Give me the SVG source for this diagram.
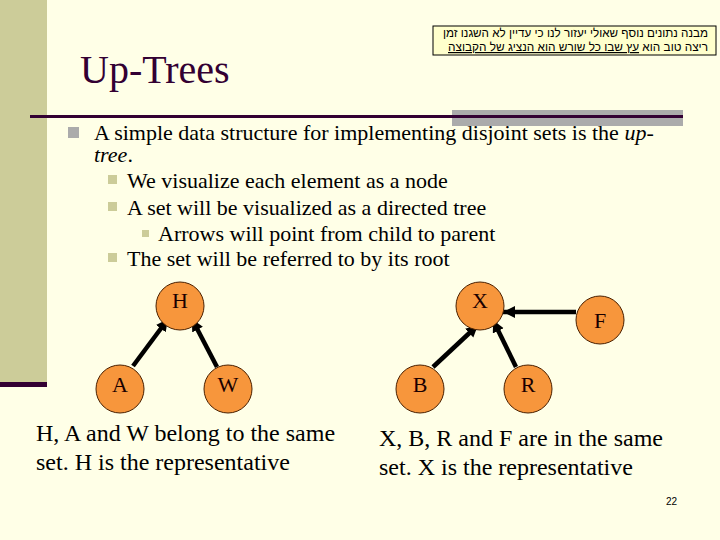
<svg xmlns="http://www.w3.org/2000/svg" width="720" height="540" viewBox="0 0 720 540">
<style>
.t{font-family:"Liberation Serif","Times New Roman",serif;fill:#000}
.b1{font-size:22px}
.cap{font-size:23px}
.lbl{font-family:"Liberation Serif","Times New Roman",serif;font-size:22px;fill:#1a0000;text-anchor:middle}
.node circle{fill:#F7963C;stroke:#4a2000;stroke-width:1}
.heb{font-family:"Liberation Sans","DejaVu Sans",sans-serif;font-size:12px;fill:#000}
.sq1{fill:#ABABAB}
.sq2{fill:#CCCC99}
</style>
<defs>
<marker id="ah" markerUnits="userSpaceOnUse" markerWidth="14" markerHeight="14" refX="12" refY="6" orient="auto">
<path d="M0,0 L12,6 L0,12 z" fill="#000"/>
</marker>
</defs>
<rect x="0" y="0" width="720" height="540" fill="#FFFFE7"/>
<rect x="0" y="0" width="47" height="382" fill="#CCCC99"/>
<rect x="0" y="382" width="47" height="5" fill="#330033"/>
<text x="80" y="83" style="font-family:'Liberation Serif','Times New Roman',serif;font-size:40px;fill:#330033">Up-Trees</text>
<rect x="452" y="110" width="231" height="16" fill="#ABABAB"/>
<rect x="30" y="115" width="653" height="3" fill="#330033"/>
<g id="note">
<rect x="433" y="26" width="283" height="29" fill="#FFFFCC" stroke="#000" stroke-width="1"/>
<text class="heb" x="708" y="37" direction="rtl" text-anchor="start" textLength="265" lengthAdjust="spacingAndGlyphs">מבנה נתונים נוסף שאולי יעזור לנו כי עדיין לא השגנו זמן</text>
<text class="heb" x="708" y="51" direction="rtl" text-anchor="start" textLength="260" lengthAdjust="spacingAndGlyphs">ריצה טוב הוא <tspan text-decoration="underline">עץ שבו כל שורש הוא הנציג של הקבוצה</tspan></text>
</g>
<rect class="sq1" x="68" y="127" width="11" height="11"/>
<text class="t b1" x="94" y="140">A simple data structure for implementing disjoint sets is the <tspan font-style="italic">up-</tspan></text>
<text class="t b1" x="94" y="162" font-style="italic">tree<tspan font-style="normal">.</tspan></text>
<rect class="sq2" x="108" y="175" width="9" height="9"/>
<text class="t b1" x="127" y="188">We visualize each element as a node</text>
<rect class="sq2" x="108" y="202" width="9" height="9"/>
<text class="t b1" x="127" y="215">A set will be visualized as a directed tree</text>
<rect class="sq2" x="142" y="230" width="7" height="7"/>
<text class="t b1" x="158" y="241">Arrows will point from child to parent</text>
<rect class="sq2" x="108" y="253" width="9" height="9"/>
<text class="t b1" x="127" y="266">The set will be referred to by its root</text>
<g id="connectors" stroke="#000" stroke-width="4.5" marker-end="url(#ah)">
<line x1="133" y1="366" x2="168" y2="319"/>
<line x1="217" y1="367" x2="192" y2="319"/>
<line x1="433" y1="367" x2="478" y2="325"/>
<line x1="516" y1="367" x2="493" y2="320"/>
<line x1="576" y1="312" x2="503" y2="312"/>
</g>
<g id="H" class="node"><circle cx="180" cy="306" r="24"/><text class="lbl" x="180" y="308">H</text></g>
<g id="A" class="node"><circle cx="120" cy="389" r="24"/><text class="lbl" x="120" y="392">A</text></g>
<g id="W" class="node"><circle cx="228" cy="389" r="24"/><text class="lbl" x="228" y="392">W</text></g>
<g id="X" class="node"><circle cx="480" cy="306" r="24"/><text class="lbl" x="480" y="308">X</text></g>
<g id="F" class="node"><circle cx="600" cy="320" r="24"/><text class="lbl" x="600" y="328">F</text></g>
<g id="B" class="node"><circle cx="420" cy="389" r="24"/><text class="lbl" x="420" y="392">B</text></g>
<g id="R" class="node"><circle cx="528" cy="389" r="24"/><text class="lbl" x="528" y="392">R</text></g>
<text class="t" x="36" y="441" font-size="24">H, A and W belong to the same</text>
<text class="t" x="36" y="470" font-size="24">set. H is the representative</text>
<text class="t" x="379" y="446" font-size="24">X, B, R and F are in the same</text>
<text class="t" x="379" y="475" font-size="24">set. X is the representative</text>
<text x="666" y="505" style="font-family:'Liberation Sans',Arial,sans-serif;font-size:10px;fill:#000">22</text>
</svg>
